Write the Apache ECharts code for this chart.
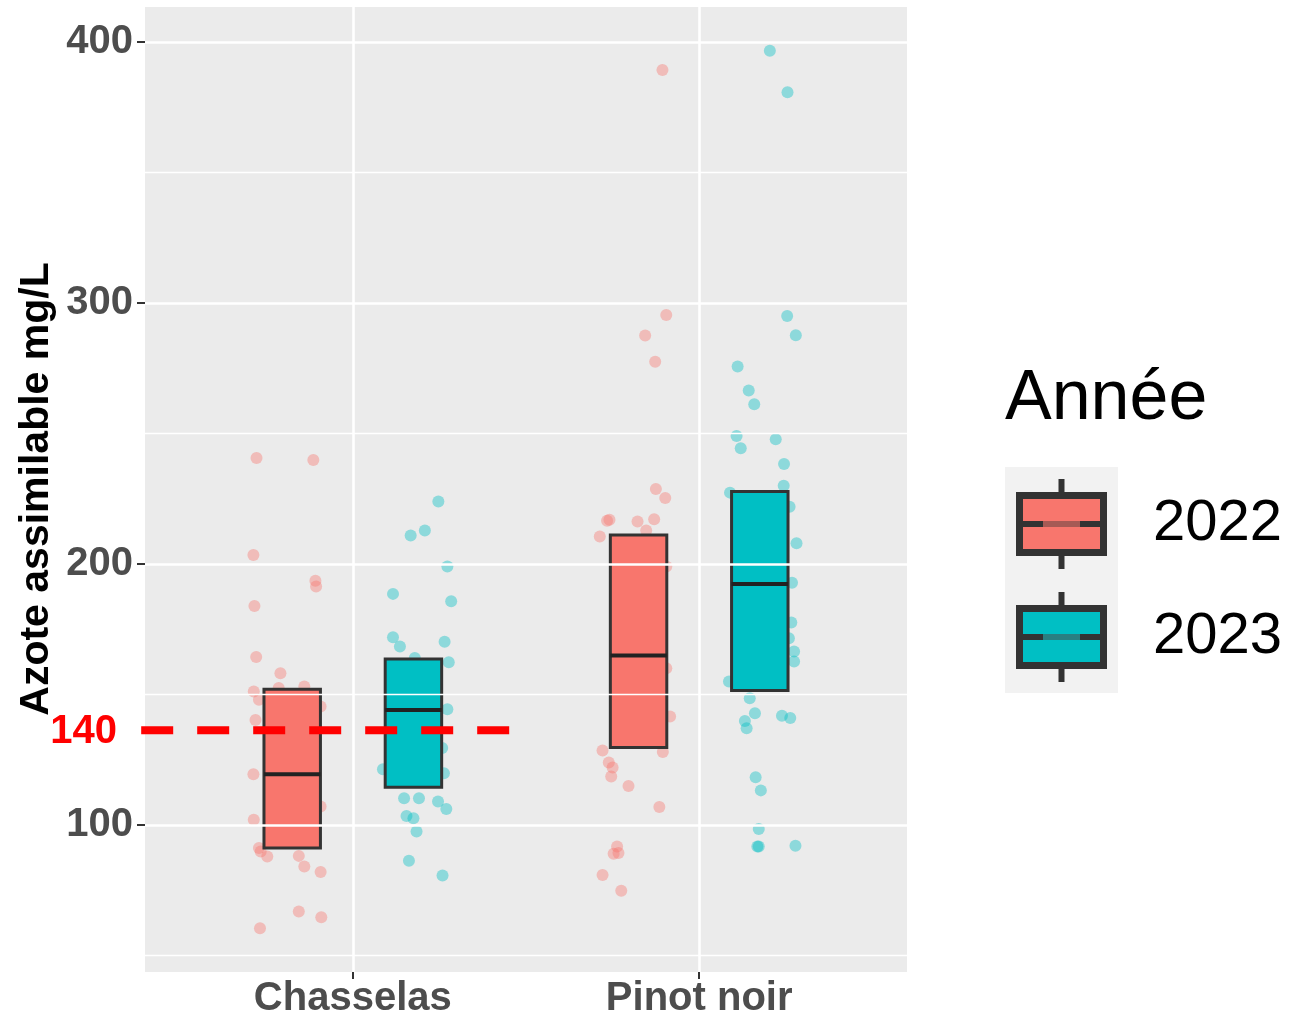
<!DOCTYPE html>
<html>
<head>
<meta charset="utf-8">
<script src="https://cdn.jsdelivr.net/npm/echarts@6/dist/echarts.min.js"></script>
<style>
html, body { margin: 0; padding: 0; background: #fff; }
#chart { width: 1290px; height: 1017px; }
</style>
</head>
<body>
<div id="chart"></div>
<script>
const cepages = ['Chasselas', 'Pinot noir']
const annees = ['2022', '2023']
const couleurs = ['#F8766D', '#00BFC4']
const yMajor = [100, 200, 300, 400]
const yMinor = [50, 150, 250, 350]
const seuilLabel = '140'
const seuilValue = 136.2

// boîtes : [Q1, médiane, Q3]
const boxChasselas2022 = [91.1, 119.4, 152.0]
const boxChasselas2023 = [114.4, 144.0, 163.5]
const boxPinot2022 = [129.6, 164.9, 211.1]
const boxPinot2023 = [151.5, 192.3, 227.7]

const valChasselas2022 = [240.6, 239.8, 203.4, 193.5, 191.3, 183.9, 164.3, 158.1, 151.1, 152.4, 153.0, 147.9, 145.3, 140.2, 119.4, 107.0, 101.9, 91.1, 89.8, 87.9, 88.1, 84.0, 81.9, 66.8, 64.6, 60.4]
const jitChasselas2022 = [-0.103, 0.061, -0.112, 0.067, 0.069, -0.109, -0.104, -0.034, -0.111, -0.039, 0.035, -0.096, 0.082, -0.106, -0.112, 0.082, -0.111, -0.096, -0.091, -0.072, 0.019, 0.035, 0.082, 0.019, 0.084, -0.093]
const valChasselas2023 = [223.9, 210.9, 212.8, 199.0, 188.5, 185.7, 171.9, 168.3, 170.2, 162.3, 163.9, 144.3, 129.4, 121.3, 119.8, 110.2, 110.2, 108.9, 106.1, 103.4, 102.5, 97.4, 86.2, 80.6]
const jitChasselas2023 = [0.072, -0.008, 0.033, 0.098, -0.059, 0.109, -0.059, -0.039, 0.090, 0.102, 0.004, 0.098, 0.083, -0.088, 0.088, -0.027, 0.016, 0.071, 0.095, -0.020, 0.000, 0.009, -0.013, 0.084]
const valPinot2022 = [389.3, 295.4, 287.5, 277.5, 228.7, 225.2, 216.9, 216.5, 216.2, 217.1, 210.5, 212.8, 199.0, 160.0, 141.5, 127.9, 128.5, 123.9, 122.0, 118.5, 114.9, 106.8, 91.7, 88.9, 89.2, 80.8, 74.7]
const jitPinot2022 = [0.069, 0.080, 0.019, 0.048, 0.050, 0.077, -0.084, -0.091, -0.003, 0.045, -0.112, 0.022, 0.080, 0.080, 0.091, 0.070, -0.104, -0.086, -0.075, -0.079, -0.029, 0.060, -0.062, -0.072, -0.058, -0.104, -0.050]
const valPinot2023 = [396.6, 380.7, 295.0, 287.6, 275.6, 266.4, 261.2, 249.0, 244.3, 247.8, 238.3, 229.9, 227.3, 221.9, 207.9, 192.8, 177.5, 171.5, 166.4, 162.6, 154.9, 148.5, 142.8, 139.8, 137.0, 141.8, 140.9, 118.2, 113.2, 98.4, 91.7, 91.7, 92.0]
const jitPinot2023 = [0.029, 0.080, 0.079, 0.104, -0.064, -0.032, -0.016, -0.067, -0.055, 0.046, 0.070, 0.069, -0.086, 0.086, 0.106, 0.093, 0.091, 0.084, 0.099, 0.099, -0.089, -0.029, -0.014, -0.043, -0.038, 0.064, 0.088, -0.012, 0.003, -0.003, -0.007, -0.003, 0.103]

// décalage de chaque année dans une catégorie, largeur de boîte
const dodge = [-0.175, 0.175]
const boxWidth = 0.163

const groupes = [
    [[boxChasselas2022, valChasselas2022, jitChasselas2022], [boxPinot2022, valPinot2022, jitPinot2022]],
    [[boxChasselas2023, valChasselas2023, jitChasselas2023], [boxPinot2023, valPinot2023, jitPinot2023]]
]

function pointsFor (yearIdx) {
    const out = []
    groupes[yearIdx].forEach((g, catIdx) => {
        const [, vals, jit] = g
        vals.forEach((v, i) => out.push([catIdx + 1 + dodge[yearIdx] + jit[i], v]))
    })
    return out
}

function boxesFor (yearIdx) {
    return groupes[yearIdx].map((g, catIdx) => [catIdx + 1 + dodge[yearIdx]].concat(g[0]))
}

function hexA (hex, a) {
    const n = parseInt(hex.slice(1), 16)
    return `rgba(${n >> 16},${(n >> 8) & 255},${n & 255},${a})`
}

const series = []

// quadrillage façon ggplot
series.push({
    type: 'line',
    data: [],
    z: 1,
    silent: true,
    markLine: {
        silent: true,
        symbol: 'none',
        label: { show: false },
        animation: false,
        lineStyle: { color: '#ffffff', type: 'solid' },
        data: yMajor.map(v => ({ yAxis: v, lineStyle: { width: 2.6, color: '#fff', type: 'solid' } }))
            .concat(yMinor.map(v => ({ yAxis: v, lineStyle: { width: 1.3, color: '#fff', type: 'solid' } })))
            .concat(cepages.map((c, i) => ({ xAxis: i + 1, lineStyle: { width: 2.6, color: '#fff', type: 'solid' } })))
    }
})

annees.forEach((an, k) => {
    series.push({
        name: an,
        type: 'scatter',
        z: 2,
        symbolSize: 12,
        itemStyle: { color: hexA(couleurs[k], 0.5) },
        data: pointsFor(k)
    })
})

annees.forEach((an, k) => {
    series.push({
        name: an + ' box',
        type: 'custom',
        z: 3,
        data: boxesFor(k),
        renderItem: (params, api) => {
            const x = api.value(0)
            const lo = api.coord([x - boxWidth / 2, api.value(1)])
            const hi = api.coord([x + boxWidth / 2, api.value(3)])
            const med = api.coord([x, api.value(2)])
            return {
                type: 'group',
                children: [
                    {
                        type: 'rect',
                        shape: { x: lo[0], y: hi[1], width: hi[0] - lo[0], height: lo[1] - hi[1] },
                        style: { fill: couleurs[k], stroke: '#333333', lineWidth: 3 }
                    },
                    {
                        type: 'line',
                        shape: { x1: lo[0], y1: med[1], x2: hi[0], y2: med[1] },
                        style: { stroke: '#222222', lineWidth: 4 }
                    }
                ]
            }
        }
    })
})

// ligne de seuil rouge
series.push({
    type: 'line',
    z: 5,
    clip: false,
    silent: true,
    symbol: 'none',
    lineStyle: { color: '#ff0000', width: 8, type: [32, 24] },
    data: [[0.389, seuilValue], [1.455, seuilValue]]
})

function legendKey (k, top) {
    const x0 = 1016, w = 91, h = 64, cx = 1061.5
    const mid = top + h / 2
    const mixes = ['#a65a55', '#2a7f81']
    return [
        { type: 'line', shape: { x1: cx, y1: top - 13, x2: cx, y2: top + h + 13 }, style: { stroke: '#333', lineWidth: 6 } },
        { type: 'rect', shape: { x: x0 + 3.5, y: top + 3.5, width: w - 7, height: h - 7 }, style: { fill: couleurs[k], stroke: '#333', lineWidth: 7 } },
        { type: 'line', shape: { x1: x0 + 3.5, y1: mid, x2: x0 + w - 3.5, y2: mid }, style: { stroke: '#333', lineWidth: 6 } },
        { type: 'line', shape: { x1: 1043, y1: mid, x2: 1080, y2: mid }, style: { stroke: mixes[k], lineWidth: 6 } },
        { type: 'text', style: { x: 1153, y: mid, text: annees[k], fill: '#000', font: '58px "Liberation Sans", Arial, sans-serif', textAlign: 'left', textVerticalAlign: 'middle' } }
    ]
}

const option = {
    animation: false,
    grid: {
        left: 145, right: 383, top: 7, bottom: 45,
        outerBoundsMode: 'none',
        containLabel: false,
        show: true, backgroundColor: '#ebebeb', borderWidth: 0
    },
    xAxis: {
        type: 'value',
        min: 0.4,
        max: 2.6,
        splitLine: { show: false },
        axisLine: { show: false },
        axisTick: { show: true, customValues: [1, 2], length: 7, lineStyle: { color: '#333', width: 2 } },
        axisLabel: {
            customValues: [1, 2],
            formatter: v => cepages[Math.round(v) - 1] || '',
            margin: 7,
            color: '#4d4d4d',
            fontSize: 40,
            fontWeight: 'bold',
            fontFamily: '"Liberation Sans", Arial, sans-serif'
        }
    },
    yAxis: {
        type: 'value',
        min: 43.6,
        max: 413.4,
        splitLine: { show: false },
        axisLine: { show: false },
        axisTick: { show: true, customValues: yMajor, length: 8, lineStyle: { color: '#333', width: 2 } },
        axisLabel: {
            customValues: yMajor,
            margin: 12,
            color: '#4d4d4d',
            fontSize: 40,
            fontWeight: 'bold',
            fontFamily: '"Liberation Sans", Arial, sans-serif'
        }
    },
    graphic: [
        {
            type: 'text',
            x: 37, y: 489,
            rotation: Math.PI / 2,
            style: {
                text: 'Azote assimilable mg/L',
                fill: '#000',
                font: 'bold 41px "Liberation Sans", Arial, sans-serif',
                textAlign: 'center',
                textVerticalAlign: 'middle'
            }
        },
        {
            type: 'text',
            style: {
                x: 117, y: 732,
                text: seuilLabel,
                fill: '#ff0000',
                font: 'bold 40px "Liberation Sans", Arial, sans-serif',
                textAlign: 'right',
                textVerticalAlign: 'middle'
            }
        },
        {
            type: 'text',
            style: {
                x: 1005, y: 400,
                text: 'Année',
                fill: '#000',
                font: '70px "Liberation Sans", Arial, sans-serif',
                textAlign: 'left',
                textVerticalAlign: 'middle'
            }
        },
        { type: 'rect', shape: { x: 1005, y: 467, width: 113, height: 226 }, style: { fill: '#f2f2f2' } }
    ].concat(legendKey(0, 492)).concat(legendKey(1, 605)),
    series: series
}

const chart = echarts.init(document.getElementById('chart'))
chart.setOption(option)
</script>
</body>
</html>
